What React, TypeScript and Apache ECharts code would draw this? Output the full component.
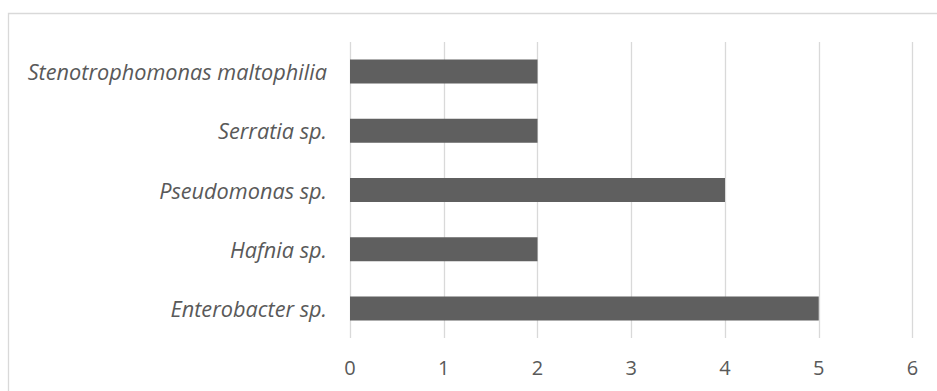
import React, { useEffect, useRef } from "react";
import * as echarts from "echarts";

const categories = [
  "Enterobacter sp.",
  "Hafnia sp.",
  "Pseudomonas sp.",
  "Serratia sp.",
  "Stenotrophomonas maltophilia",
];
const values = [5, 2, 4, 2, 2];
const xMin = 0;
const xMax = 6;
const xInterval = 1;

export default function App() {
  const ref = useRef<HTMLDivElement>(null);
  useEffect(() => {
    const chart = echarts.init(ref.current!, null, { renderer: "svg" });
    chart.setOption({
      animation: false,
      backgroundColor: "#ffffff",
      textStyle: { fontFamily: "Open Sans" },
      graphic: [
        {
          type: "rect",
          shape: { x: 8.5, y: 13.5, width: 960, height: 420 },
          style: { fill: "none", stroke: "#d9d9d9", lineWidth: 1.3 },
          silent: true,
        },
      ],
      grid: { left: 350, right: 24.5, top: 42, bottom: 53, containLabel: false },
      xAxis: {
        type: "value",
        min: xMin,
        max: xMax,
        interval: xInterval,
        axisLine: { show: false },
        axisTick: { show: false },
        splitLine: { show: true, lineStyle: { color: "#d9d9d9", width: 1.3 } },
        axisLabel: { color: "#595959", fontSize: 20, margin: 19, fontFamily: "Open Sans" },
      },
      yAxis: {
        type: "category",
        data: categories,
        axisLine: { show: false },
        axisTick: { show: false },
        axisLabel: {
          color: "#595959",
          fontSize: 21.7,
          fontStyle: "italic",
          margin: 23,
          fontFamily: "Open Sans",
        },
      },
      series: [
        {
          type: "bar",
          data: values,
          barWidth: 24,
          itemStyle: { color: "#5f5f5f" },
        },
      ],
    });
    return () => chart.dispose();
  }, []);
  return (
    <div
      ref={ref}
      style={{ position: "fixed", left: 0, top: 0, width: 937, height: 391 }}
    />
  );
}
